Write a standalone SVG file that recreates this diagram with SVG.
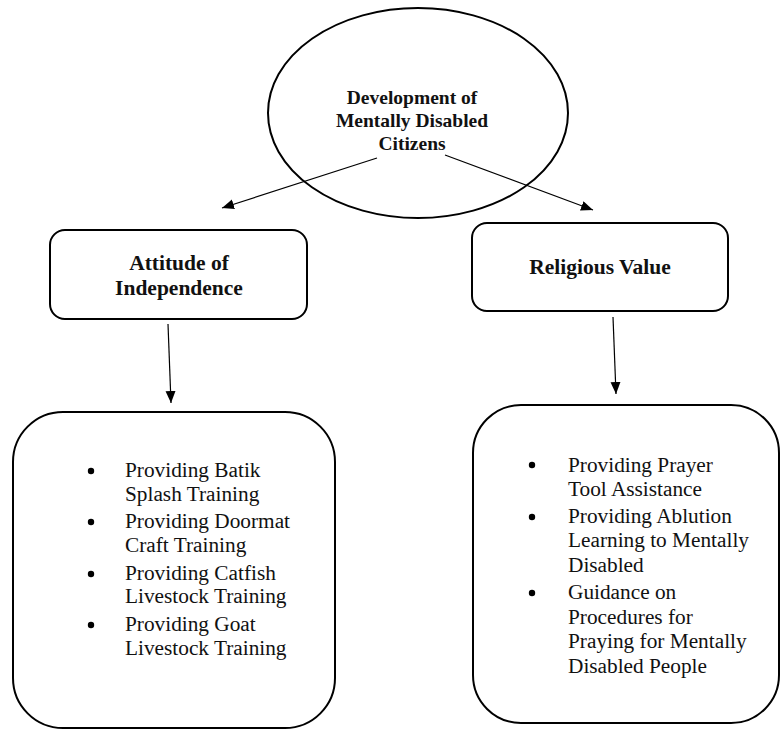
<svg xmlns="http://www.w3.org/2000/svg" width="783" height="730" viewBox="0 0 783 730">
<style>
.shape{fill:#fff;stroke:#000;stroke-width:2}
.hd{font-family:"Liberation Serif","Times New Roman",serif;font-weight:bold;fill:#111;text-anchor:middle}
.it{font-family:"Liberation Serif","Times New Roman",serif;font-size:21.3px;fill:#111}
.conn{stroke:#000;stroke-width:1.2;fill:none;marker-end:url(#ah)}
</style>
<defs>
<marker id="ah" markerUnits="userSpaceOnUse" markerWidth="13" markerHeight="11" refX="12" refY="5" orient="auto">
<path d="M0,0 L12,5 L0,10 z" fill="#000"/>
</marker>
</defs>
<rect width="783" height="730" fill="#fff"/>
<g id="root">
<ellipse class="shape" cx="418" cy="113" rx="150" ry="105"/>
<text class="hd" font-size="19.5" x="412" y="104">Development of</text>
<text class="hd" font-size="19.5" x="412" y="127">Mentally Disabled</text>
<text class="hd" font-size="19.5" x="412" y="150">Citizens</text>
</g>
<g id="attitude">
<rect class="shape" x="50" y="230" width="257" height="89" rx="15"/>
<text class="hd" font-size="21.5" x="179" y="270">Attitude of</text>
<text class="hd" font-size="21.5" x="179" y="295">Independence</text>
</g>
<g id="religious">
<rect class="shape" x="472" y="223" width="256" height="88" rx="15"/>
<text class="hd" font-size="21.5" x="600" y="274">Religious Value</text>
</g>
<g id="attitude-items">
<rect class="shape" x="13" y="412" width="322" height="316" rx="50"/>
<circle cx="91" cy="471" r="3.2"/>
<circle cx="91" cy="522" r="3.2"/>
<circle cx="91" cy="574" r="3.2"/>
<circle cx="91" cy="625" r="3.2"/>
<text class="it" x="125" y="477">Providing Batik</text>
<text class="it" x="125" y="501">Splash Training</text>
<text class="it" x="125" y="528">Providing Doormat</text>
<text class="it" x="125" y="552">Craft Training</text>
<text class="it" x="125" y="580">Providing Catfish</text>
<text class="it" x="125" y="603">Livestock Training</text>
<text class="it" x="125" y="631">Providing Goat</text>
<text class="it" x="125" y="655">Livestock Training</text>
</g>
<g id="religious-items">
<rect class="shape" x="473" y="405" width="306" height="318" rx="48"/>
<circle cx="532" cy="465" r="3.2"/>
<circle cx="532" cy="517" r="3.2"/>
<circle cx="532" cy="593" r="3.2"/>
<text class="it" x="568" y="472">Providing Prayer</text>
<text class="it" x="568" y="496">Tool Assistance</text>
<text class="it" x="568" y="523">Providing Ablution</text>
<text class="it" x="568" y="547">Learning to Mentally</text>
<text class="it" x="568" y="572">Disabled</text>
<text class="it" x="568" y="599">Guidance on</text>
<text class="it" x="568" y="624">Procedures for</text>
<text class="it" x="568" y="648">Praying for Mentally</text>
<text class="it" x="568" y="673">Disabled People</text>
</g>
<g id="connectors">
<line class="conn" x1="377" y1="158" x2="222" y2="208"/>
<line class="conn" x1="445" y1="155" x2="593" y2="210"/>
<line class="conn" x1="168" y1="324" x2="171" y2="403"/>
<line class="conn" x1="613" y1="317" x2="616" y2="394"/>
</g>
</svg>
